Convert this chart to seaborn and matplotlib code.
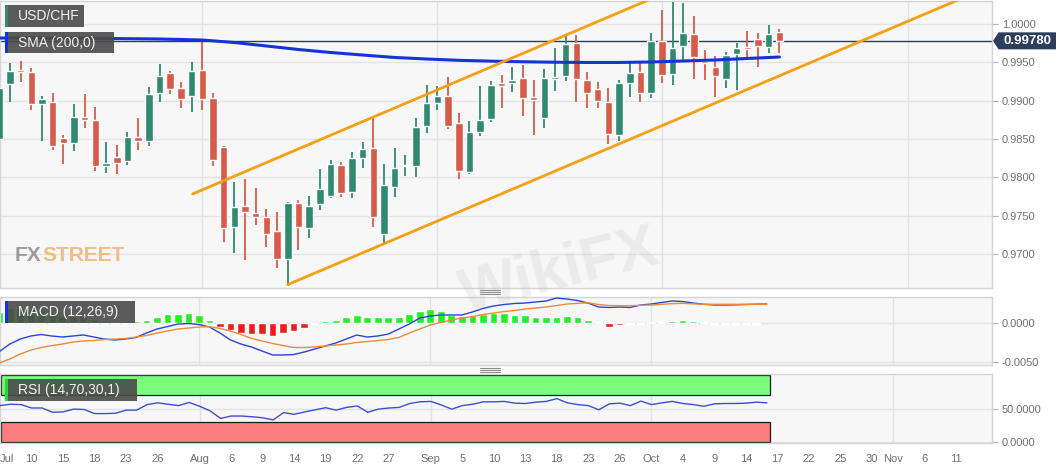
import matplotlib
matplotlib.use("Agg")
import matplotlib.pyplot as plt
import matplotlib.transforms as mtransforms
from matplotlib.patches import Polygon, Rectangle
from matplotlib.lines import Line2D
import numpy as np
import seaborn as sns

W, H = 1063, 469

# USD/CHF daily candles, 5 Jul - 16 Oct 2019 (one entry per trading day)
opens = [0.9850, 0.9922, 0.9940, 0.9937, 0.9896, 0.9898, 0.9851, 0.9845, 0.9879, 0.9875,
         0.9815, 0.9826, 0.9821, 0.9853, 0.9847, 0.9910, 0.9936, 0.9917, 0.9906, 0.9940,
         0.9903, 0.9840, 0.9735, 0.9763, 0.9753, 0.9748, 0.9730, 0.9693, 0.9766, 0.9734,
         0.9765, 0.9776, 0.9816, 0.9781, 0.9825, 0.9838, 0.9726, 0.9787, 0.9815, 0.9815,
         0.9867, 0.9897, 0.9906, 0.9871, 0.9807, 0.9859, 0.9876, 0.9923, 0.9923, 0.9930,
         0.9905, 0.9877, 0.9928, 0.9932, 0.9975, 0.9927, 0.9915, 0.9898, 0.9855, 0.9923,
         0.9937, 0.9910, 0.9978, 0.9935, 0.9971, 0.9987, 0.9952, 0.9944, 0.9928, 0.9961,
         0.9970, 0.9980, 0.9970, 0.9990]
highs = [0.9932, 0.9949, 0.9952, 0.9943, 0.9906, 0.9910, 0.9855, 0.9896, 0.9909, 0.9892,
         0.9846, 0.9842, 0.9859, 0.9877, 0.9918, 0.9948, 0.9939, 0.9924, 0.9950, 0.9977,
         0.9910, 0.9841, 0.9794, 0.9798, 0.9786, 0.9759, 0.9755, 0.9768, 0.9770, 0.9776,
         0.9811, 0.9823, 0.9820, 0.9833, 0.9846, 0.9877, 0.9817, 0.9838, 0.9829, 0.9877,
         0.9920, 0.9919, 0.9931, 0.9884, 0.9873, 0.9919, 0.9926, 0.9933, 0.9944, 0.9947,
         0.9927, 0.9941, 0.9969, 0.9984, 0.9986, 0.9937, 0.9924, 0.9917, 0.9927, 0.9949,
         0.9949, 0.9988, 1.0018, 1.0029, 1.0027, 1.0010, 0.9966, 0.9958, 0.9964, 0.9975,
         0.9991, 0.9988, 0.9999, 0.9994]
lows = [0.9849, 0.9898, 0.9924, 0.9888, 0.9847, 0.9836, 0.9817, 0.9834, 0.9864, 0.9808,
        0.9806, 0.9804, 0.9816, 0.9836, 0.9841, 0.9898, 0.9909, 0.9890, 0.9885, 0.9888,
        0.9815, 0.9716, 0.9701, 0.9692, 0.9738, 0.9709, 0.9682, 0.9658, 0.9705, 0.9721,
        0.9757, 0.9773, 0.9774, 0.9773, 0.9812, 0.9735, 0.9714, 0.9774, 0.9802, 0.9800,
        0.9858, 0.9888, 0.9863, 0.9798, 0.9804, 0.9854, 0.9872, 0.9890, 0.9911, 0.9880,
        0.9855, 0.9864, 0.9913, 0.9926, 0.9898, 0.9890, 0.9890, 0.9843, 0.9847, 0.9905,
        0.9898, 0.9903, 0.9923, 0.9920, 0.9953, 0.9928, 0.9927, 0.9905, 0.9917, 0.9914,
        0.9957, 0.9944, 0.9962, 0.9962]
closes = [0.9917, 0.9939, 0.9937, 0.9896, 0.9902, 0.9841, 0.9845, 0.9879, 0.9875, 0.9815,
          0.9819, 0.9819, 0.9853, 0.9847, 0.9909, 0.9932, 0.9915, 0.9902, 0.9939, 0.9902,
          0.9823, 0.9734, 0.9761, 0.9755, 0.9748, 0.9726, 0.9693, 0.9766, 0.9735, 0.9763,
          0.9785, 0.9817, 0.9780, 0.9825, 0.9837, 0.9748, 0.9790, 0.9812, 0.9816, 0.9866,
          0.9897, 0.9906, 0.9867, 0.9808, 0.9859, 0.9875, 0.9920, 0.9919, 0.9927, 0.9903,
          0.9901, 0.9930, 0.9931, 0.9974, 0.9928, 0.9910, 0.9900, 0.9857, 0.9923, 0.9936,
          0.9910, 0.9978, 0.9933, 0.9969, 0.9988, 0.9957, 0.9949, 0.9932, 0.9960, 0.9969,
          0.9967, 0.9971, 0.9987, 0.9978]

# 200-day SMA, read every few candles
sma_days = [0, 5, 10, 15, 19, 22, 25, 28, 31, 34, 37, 40, 43, 46, 49, 52, 55, 58, 61, 64, 67, 70, 73]
sma_200 = [0.99817, 0.99815, 0.99811, 0.99804, 0.99791, 0.99758, 0.99713, 0.99667, 0.99628,
           0.99595, 0.99563, 0.99543, 0.99526, 0.99515, 0.99507, 0.99501, 0.99498, 0.99498,
           0.99504, 0.99517, 0.99530, 0.99550, 0.99569]

# channel lines (two anchor points each: trading-day index, price)
upper_days = [18.1, 62]
upper_px = [0.97782, 1.00388]
lower_days = [27, 91]
lower_px = [0.96599, 1.00390]
last_price = 0.99780

# MACD (12,26,9)
macd_line = [-0.00371, -0.00273, -0.00209, -0.00170, -0.00151, -0.00170, -0.00183, -0.00170,
             -0.00157, -0.00183, -0.00209, -0.00221, -0.00209, -0.00189, -0.00132, -0.00081,
             -0.00049, -0.00017, -0.00010, -0.00023, -0.00055, -0.00132, -0.00221, -0.00273,
             -0.00311, -0.00362, -0.00413, -0.00413, -0.00407, -0.00375, -0.00337, -0.00298,
             -0.00260, -0.00209, -0.00157, -0.00183, -0.00170, -0.00145, -0.00081, -0.00017,
             0.00060, 0.00086, 0.00099, 0.00099, 0.00099, 0.00137, 0.00182, 0.00214,
             0.00233, 0.00246, 0.00252, 0.00265, 0.00278, 0.00316, 0.00303, 0.00284,
             0.00252, 0.00201, 0.00195, 0.00201, 0.00195, 0.00227, 0.00239, 0.00259,
             0.00278, 0.00271, 0.00252, 0.00236, 0.00227, 0.00227, 0.00229, 0.00233,
             0.00237, 0.00239]
signal_line = [-0.00516, -0.00465, -0.00401, -0.00350, -0.00317, -0.00292, -0.00273, -0.00247,
               -0.00234, -0.00228, -0.00215, -0.00209, -0.00202, -0.00183, -0.00164, -0.00132,
               -0.00106, -0.00081, -0.00068, -0.00055, -0.00051, -0.00074, -0.00106, -0.00151,
               -0.00200, -0.00234, -0.00266, -0.00292, -0.00317, -0.00317, -0.00311, -0.00298,
               -0.00285, -0.00273, -0.00253, -0.00241, -0.00228, -0.00215, -0.00189, -0.00132,
               -0.00081, -0.00029, 0.00003, 0.00035, 0.00060, 0.00079, 0.00105, 0.00124,
               0.00143, 0.00156, 0.00175, 0.00188, 0.00201, 0.00220, 0.00239, 0.00248,
               0.00255, 0.00233, 0.00220, 0.00218, 0.00218, 0.00223, 0.00227, 0.00236,
               0.00244, 0.00248, 0.00242, 0.00236, 0.00236, 0.00236, 0.00236, 0.00236,
               0.00236, 0.00236]
macd_hist = [0.0014, 0.0019, 0.0019, 0.0018, 0.0016, 0.0012, 0.0009, 0.0008, 0.0008, 0.0005,
             0.0002, 0.0001, 0.0002, 0.0002, 0.00034, 0.00068, 0.00107, 0.00107, 0.0012, 0.00098,
             0.00034, -0.0006, -0.00094, -0.00128, -0.00145, -0.0015, -0.0017, -0.00128, -0.001, -0.00064,
             -0.0002, 0.0002, 0.00034, 0.00068, 0.00098, 0.00068, 0.00068, 0.00068, 0.00077, 0.00107,
             0.0015, 0.0017, 0.00154, 0.00098, 0.00085, 0.00098, 0.00107, 0.0012, 0.0012, 0.00098,
             0.00098, 0.00077, 0.00077, 0.00077, 0.0009, 0.00068, 0.00034, 0.00005, -0.00051, -0.0003,
             -0.00021, -0.00021, 0.00013, 0.00005, 0.00021, 0.00034, 0.00026, 0.00013, -0.00013, -0.00013,
             -0.00013, -0.00013, -0.00013]
hist_faded = [False] * 70 + [True, True, True]

# RSI (14)
rsi_14 = [54.5, 56.5, 56.0, 51.0, 51.0, 44.7, 45.2, 49.3, 48.8, 42.7,
          42.7, 43.2, 47.8, 47.8, 56.0, 58.6, 56.5, 54.5, 59.1, 53.5,
          46.8, 35.5, 39.1, 39.1, 38.0, 36.5, 33.4, 44.2, 41.6, 45.2,
          48.3, 51.4, 47.8, 51.9, 54.0, 44.7, 49.3, 50.9, 51.9, 57.6,
          60.1, 60.7, 55.5, 49.3, 54.5, 56.5, 60.1, 60.1, 60.7, 58.1,
          57.6, 59.6, 60.7, 64.8, 58.6, 56.0, 54.5, 48.3, 57.1, 58.1,
          54.5, 61.2, 56.0, 58.6, 60.7, 57.6, 56.0, 53.5, 57.1, 57.6,
          57.6, 58.1, 59.6, 58.6]

# date axis (trading-day index of each label)
tick_days = [0, 3, 6, 9, 12, 15, 19, 22, 25, 28, 31, 34, 37, 41, 44, 47, 50, 53, 56, 59,
             62, 65, 68, 71, 74, 77, 80, 83, 85, 88, 91]
tick_labels = ["Jul", "10", "15", "18", "23", "26", "Aug", "6", "9", "14", "19", "22", "27",
               "Sep", "5", "10", "13", "18", "23", "26", "Oct", "4", "9", "14", "17", "22",
               "25", "30", "Nov", "6", "11"]
month_days = [19, 41, 62, 85]
price_ticks = [0.9700, 0.9750, 0.9800, 0.9850, 0.9900, 0.9950, 1.0000]

GREEN, RED = "#2f8a6f", "#d85a48"
GRID = "#e3e3e3"
TXT = "#707070"

sns.set_style("white")
plt.rcParams["font.family"] = ["Liberation Sans", "DejaVu Sans"]

fig = plt.figure(figsize=(W / 100, H / 100), dpi=100)


def px_rect(left, top, right, bottom):
    return [left / W, 1 - bottom / H, (right - left) / W, (bottom - top) / H]


ax = fig.add_axes(px_rect(0, 1, 992, 287.5))
ax_macd = fig.add_axes(px_rect(0, 296.7, 992, 365))
ax_rsi = fig.add_axes(px_rect(0, 374, 992, 442.7))

for a in (ax, ax_macd, ax_rsi):
    a.set_facecolor("#f7f7f7")
    a.set_axisbelow(True)
    for s in a.spines.values():
        s.set_color("#d4d4d4")
        s.set_linewidth(1)
    a.yaxis.tick_right()
    a.tick_params(axis="y", length=4, color="#b0b0b0", labelsize=8, labelcolor=TXT, pad=3)
    a.grid(axis="y", color=GRID, lw=1)

# ---- price panel ----
days = np.arange(len(opens))
o, hi, lo, c = map(np.array, (opens, highs, lows, closes))
col = np.where(c >= o, GREEN, RED)
for d in month_days:
    ax.axvline(d, color=GRID, lw=1, zorder=0)
ax.vlines(days, lo, hi, colors=col, lw=1.3, zorder=3)
ax.bar(days, np.maximum(np.abs(c - o), 0.00005), bottom=np.minimum(o, c),
       width=0.7, color=col, zorder=4)
ax.axhline(last_price, color="#2c3e56", lw=1, zorder=2)
sns.lineplot(x=sma_days, y=sma_200, ax=ax, color="#1533d6", lw=2.2, zorder=5)
sns.lineplot(x=upper_days, y=upper_px, ax=ax, color="#f5a014", lw=2, zorder=5)
sns.lineplot(x=lower_days, y=lower_px, ax=ax, color="#f5a014", lw=2, zorder=5)
ax.set_xlim(0.072, 92.89)
ax.set_ylim(0.96561, 1.0030)
ax.set_xticks([])
ax.set_yticks(price_ticks, [f"{p:.4f}" for p in price_ticks])
ax.set_xlabel("")
ax.set_ylabel("")

# last price tag
tf = mtransforms.blended_transform_factory(fig.transFigure, ax.transData)
hh = 8.5 * (1.0030 - 0.96561) / 286.5
ax.add_patch(Polygon([(993 / W, last_price), (998.5 / W, last_price + hh), (1056 / W, last_price + hh),
                      (1056 / W, last_price - hh), (998.5 / W, last_price - hh)],
                     closed=True, fc="#2b3f5c", ec="none", transform=tf, clip_on=False, zorder=10))
ax.text(1027 / W, last_price, f"{last_price:.5f}", transform=tf, color="white", fontsize=9.5,
        fontweight="bold", ha="center", va="center", clip_on=False, zorder=11)

# ---- MACD panel ----
xl_ind = (0.076, 94.42)
for d in month_days:
    ax_macd.axvline(d, color=GRID, lw=1, zorder=0)
hist_days = np.arange(len(macd_hist))
hist_col = ["#f2a3a3" if f else ("#22f022" if v >= 0 else "#ee1c1c")
            for v, f in zip(macd_hist, hist_faded)]
ax_macd.bar(hist_days, macd_hist, width=0.73, color=hist_col, zorder=2)
sns.lineplot(x=days, y=macd_line, ax=ax_macd, color="#2b44d8", lw=1, zorder=3)
sns.lineplot(x=days, y=signal_line, ax=ax_macd, color="#f08a3a", lw=1, zorder=3)
ax_macd.set_xlim(*xl_ind)
ax_macd.set_ylim(-0.00541, 0.00333)
ax_macd.set_xticks([])
ax_macd.set_yticks([-0.005, 0.0], ["-0.0050", "0.0000"])
ax_macd.set_xlabel("")
ax_macd.set_ylabel("")

# ---- RSI panel ----
for d in month_days:
    ax_rsi.axvline(d, color=GRID, lw=1, zorder=0)
band_end = days[-1] + 0.3
ax_rsi.add_patch(Rectangle((xl_ind[0], 70), band_end - xl_ind[0], 30, fc="#7dfb7d",
                           ec="#1a1a1a", lw=0.9, zorder=1))
ax_rsi.add_patch(Rectangle((xl_ind[0], 0), band_end - xl_ind[0], 30, fc="#fc7d7d",
                           ec="#1a1a1a", lw=0.9, zorder=1))
sns.lineplot(x=days, y=rsi_14, ax=ax_rsi, color="#3a50d0", lw=1, zorder=3)
ax_rsi.set_xlim(*xl_ind)
ax_rsi.set_ylim(-0.3, 101.2)
ax_rsi.set_yticks([0, 50], ["0.0000", "50.0000"])
ax_rsi.set_xticks(tick_days, tick_labels)
ax_rsi.tick_params(axis="x", length=4, color="#b0b0b0", labelsize=8, labelcolor=TXT, pad=4)
ax_rsi.get_xticklabels()[0].set_horizontalalignment("left")
ax_rsi.set_xlabel("")
ax_rsi.set_ylabel("")


# ---- indicator name tags ----
def name_tag(left, top, right, bottom, text, strip):
    fig.add_artist(Rectangle((left / W, 1 - bottom / H), (right - left) / W, (bottom - top) / H,
                             transform=fig.transFigure, fc="#4a4a4a", alpha=0.9, lw=0))
    fig.add_artist(Rectangle((left / W, 1 - bottom / H), 3 / W, (bottom - top) / H,
                             transform=fig.transFigure, fc=strip, lw=0))
    fig.text((left + 13) / W, 1 - (top + bottom) / 2 / H, text, color="#f2f2f2",
             fontsize=10, va="center", ha="left")


name_tag(5, 5, 84, 27, "USD/CHF", "#2e8b6e")
name_tag(5, 32, 114, 53, "SMA (200,0)", "#1030ee")
name_tag(5, 301, 135, 322.5, "MACD (12,26,9)", "#1030ee")
name_tag(5, 379, 137, 401, "RSI (14,70,30,1)", "#22dd22")

# panel splitter handles
for base in (290, 368.3):
    for k in range(3):
        yy = 1 - (base + 2 * k) / H
        fig.add_artist(Line2D([480 / W, 500 / W], [yy, yy], color="#8a8a8a", lw=0.8,
                              transform=fig.transFigure))

# watermarks
fig.text(15 / W, 1 - 255 / H, "FX", color="#8c8c8c", fontsize=15, fontweight="bold",
         alpha=0.85, va="center")
fig.text(42 / W, 1 - 255 / H, "STREET", color="#efb878", fontsize=15, fontweight="bold",
         alpha=0.9, va="center")
fig.text(560 / W, 1 - 272 / H, "WikiFX", color="#b5b5b5", fontsize=44, fontweight="bold",
         alpha=0.18, rotation=14, ha="center", va="center")

fig.savefig("out.png", dpi=100, facecolor="white")
